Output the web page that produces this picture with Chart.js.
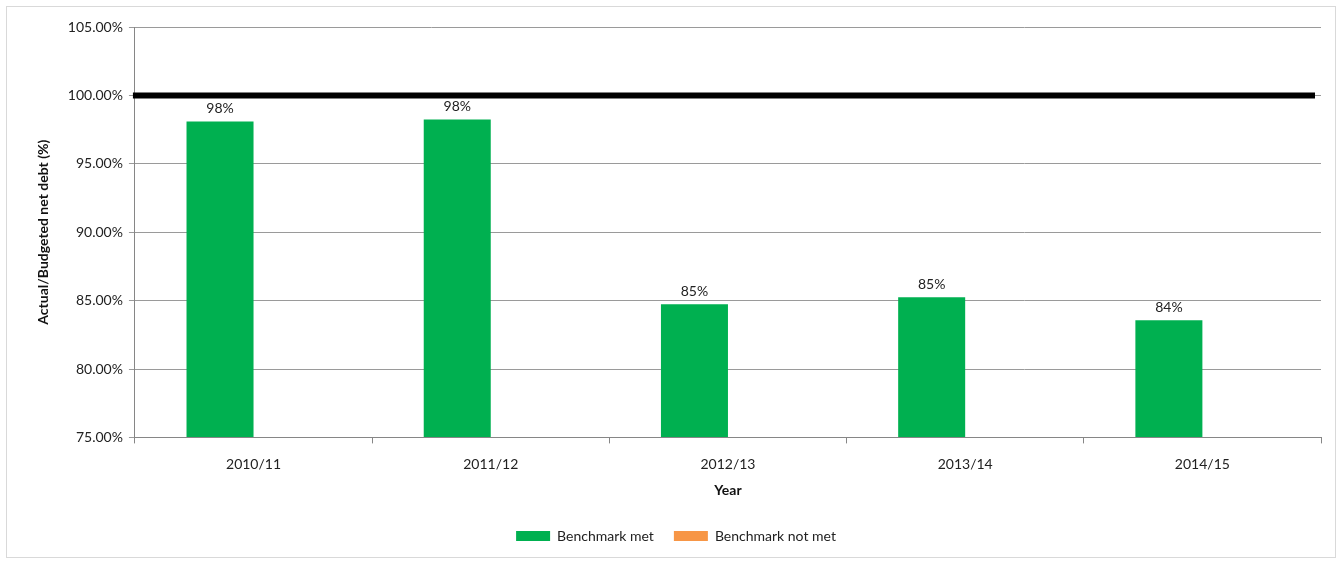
<!DOCTYPE html>
<html>
<head>
<meta charset="utf-8">
<script src="https://cdn.jsdelivr.net/npm/chart.js@4/dist/chart.umd.min.js"></script>
<style>
    body { margin: 0; background: #fff; }
    #caixa {
        position: absolute; left: 6px; top: 6px;
        width: 1330px; height: 552px;
        border: 1px solid #d9d9d9; box-sizing: border-box;
    }
</style>
</head>
<body>
<div id="caixa"><canvas id="grafico_divida"></canvas></div>
<script>
// anos e razao divida liquida real / orcada (%)
const anos = ['2010/11', '2011/12', '2012/13', '2013/14', '2014/15'];
const benchmark_atingido = [98.09, 98.24, 84.74, 85.25, 83.57];
const benchmark_nao_atingido = [null, null, null, null, null];
const linha_benchmark = 100;

const fonte = 'Lato, "Noto Sans", sans-serif';

// linha preta grossa do benchmark (100%)
const pluginBenchmark = {
    id: 'linhaBenchmark',
    afterDatasetsDraw(chart) {
        const ctx = chart.ctx;
        const area = chart.chartArea;
        const y = chart.scales.y.getPixelForValue(linha_benchmark);
        ctx.save();
        ctx.strokeStyle = '#000';
        ctx.lineWidth = 6;
        ctx.beginPath();
        ctx.moveTo(area.left - 2, y);
        ctx.lineTo(area.right - 6, y);
        ctx.stroke();
        ctx.restore();
    }
};

// rotulos de valor em cima das barras verdes
const pluginRotulos = {
    id: 'rotulos',
    afterDatasetsDraw(chart) {
        const ctx = chart.ctx;
        const meta = chart.getDatasetMeta(0);
        ctx.save();
        ctx.font = '14px ' + fonte;
        ctx.fillStyle = '#222';
        ctx.textAlign = 'center';
        ctx.textBaseline = 'bottom';
        meta.data.forEach(function (barra, i) {
            const v = benchmark_atingido[i];
            if (v == null) return;
            ctx.fillText(Math.round(v) + '%', barra.x, barra.y - 6);
        });
        ctx.restore();
    }
};

const data_divida = {
    labels: anos,
    datasets: [{
        label: 'Benchmark met',
        data: benchmark_atingido,
        backgroundColor: '#00B050',
        borderColor: '#00B050',
        borderWidth: 0
    }, {
        label: 'Benchmark not met',
        data: benchmark_nao_atingido,
        backgroundColor: '#F79646',
        borderColor: '#F79646',
        borderWidth: 0
    }]
};

const config_divida = {
    type: 'bar',
    data: data_divida,
    options: {
        responsive: true,
        maintainAspectRatio: false,
        animation: false,
        layout: { padding: { left: 24, right: 14, top: 20, bottom: 4 } },
        datasets: {
            bar: { categoryPercentage: 0.565, barPercentage: 1.0, base: 75 }
        },
        scales: {
            x: {
                grid: { drawOnChartArea: false, tickLength: 6, color: '#868686' },
                border: { color: '#868686' },
                ticks: { color: '#222', font: { size: 14, family: fonte }, padding: 13 },
                title: {
                    display: true, text: 'Year', color: '#111',
                    font: { size: 14, weight: 'bold', family: fonte },
                    padding: { top: -4, bottom: 10 }
                }
            },
            y: {
                min: 75,
                max: 105,
                grid: { color: '#9a9a9a', tickLength: 6 },
                border: { color: '#868686' },
                ticks: {
                    stepSize: 5,
                    color: '#222',
                    font: { size: 14, family: fonte },
                    padding: 6,
                    callback: function (v) { return v.toFixed(2) + '%'; }
                },
                title: {
                    display: true, text: 'Actual/Budgeted net debt (%)', color: '#111',
                    font: { size: 14, weight: 'bold', family: fonte },
                    padding: { bottom: 10 }
                }
            }
        },
        plugins: {
            legend: {
                position: 'bottom',
                labels: {
                    boxWidth: 34, boxHeight: 10, color: '#222', padding: 20,
                    font: { size: 14, family: fonte }
                }
            },
            tooltip: { enabled: false }
        }
    },
    plugins: [pluginBenchmark, pluginRotulos]
};

const grafico_divida = new Chart(document.getElementById('grafico_divida'), config_divida);
</script>
</body>
</html>
